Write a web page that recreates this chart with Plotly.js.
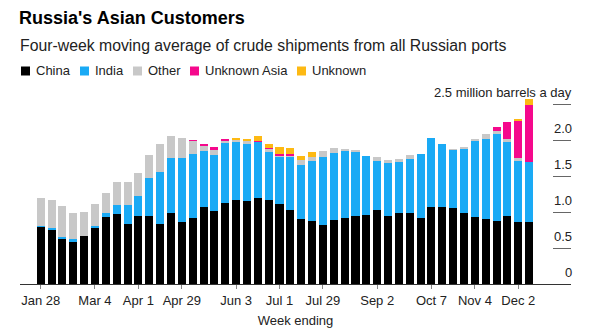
<!DOCTYPE html>
<html><head><meta charset="utf-8">
<script src="https://cdn.plot.ly/plotly-3.0.1.min.js"></script>
<style>html,body{margin:0;padding:0;background:#fff;} #chart{width:604px;height:335px;}</style>
</head><body><div id="chart"></div>
<script>
const weeks = ['2022-01-28','2022-02-04','2022-02-11','2022-02-18','2022-02-25','2022-03-04','2022-03-11','2022-03-18','2022-03-25','2022-04-01',
'2022-04-08','2022-04-15','2022-04-22','2022-04-29','2022-05-06','2022-05-13','2022-05-20','2022-05-27','2022-06-03','2022-06-10',
'2022-06-17','2022-06-24','2022-07-01','2022-07-08','2022-07-15','2022-07-22','2022-07-29','2022-08-05','2022-08-12','2022-08-19',
'2022-08-26','2022-09-02','2022-09-09','2022-09-16','2022-09-23','2022-09-30','2022-10-07','2022-10-14','2022-10-21','2022-10-28',
'2022-11-04','2022-11-11','2022-11-18','2022-11-25','2022-12-02','2022-12-09'];

const china = [0.79,0.75,0.63,0.59,0.66,0.78,0.93,0.97,0.84,0.94,
0.94,0.84,0.99,0.86,0.91,1.07,1.01,1.12,1.17,1.15,
1.20,1.16,1.11,1.03,0.90,0.87,0.82,0.89,0.91,0.94,
0.96,1.03,0.94,0.98,0.98,0.91,1.07,1.07,1.05,0.98,
0.93,0.90,0.87,0.94,0.86,0.86];

const india = [0.02,0.03,0.02,0.03,0.00,0.03,0.05,0.13,0.26,0.28,
0.53,0.71,0.76,0.89,0.89,0.78,0.78,0.84,0.80,0.80,
0.77,0.68,0.65,0.73,0.75,0.84,0.94,0.93,0.94,0.90,
0.82,0.68,0.74,0.71,0.75,0.90,0.96,0.88,0.81,0.90,
1.06,1.12,1.21,1.03,0.85,0.83];

const other = [0.38,0.38,0.44,0.37,0.34,0.30,0.29,0.31,0.31,0.32,
0.32,0.39,0.30,0.28,0.18,0.07,0.07,0.03,0.03,0.03,
0.00,0.03,0.02,0.02,0.07,0.06,0.09,0.07,0.02,0.02,
0.00,0.05,0.04,0.05,0.06,0.00,0.00,0.00,0.02,0.02,
0.03,0.07,0.04,0.05,0.04,0.00];

const unknownAsia = [0,0,0,0,0,0,0,0,0,0,
0,0,0,0,0.02,0.03,0.04,0.03,0,0,
0.02,0.02,0.02,0.03,0,0,0,0,0,0,
0,0,0,0,0,0,0,0,0,0,
0,0,0.06,0.23,0.51,0.79];

const unknown = [0,0,0,0,0,0,0,0,0,0,
0,0,0,0,0,0,0,0,0.03,0.03,
0.06,0.05,0.10,0.08,0.06,0.06,0,0,0,0,
0,0,0,0,0,0,0,0,0,0,
0,0,0,0,0.03,0.09];

const seriesNames = ['China','India','Other','Unknown Asia','Unknown'];
const seriesValues = [china, india, other, unknownAsia, unknown];
const seriesColors = ['#000000','#1AAAF5','#C8C8C8','#F5088C','#FDB913'];

const tickDates = ['2022-01-28','2022-03-04','2022-04-01','2022-04-29','2022-06-03','2022-07-01','2022-07-29','2022-09-02','2022-10-07','2022-11-04','2022-12-02'];
const tickLabels = ['Jan 28','Mar 4','Apr 1','Apr 29','Jun 3','Jul 1','Jul 29','Sep 2','Oct 7','Nov 4','Dec 2'];
const yTickVals = [0, 0.5, 1, 1.5, 2, 2.5];
const yTickLabels = ['0','0.5','1.0','1.5','2.0','2.5 million barrels a day'];

const FONT = 'Liberation Sans, Arial, sans-serif';
const W = 604, H = 335, L = 20, R = 33, T = 90, B = 51;
const pw = W - L - R, ph = H - T - B;
const pxX = x => (x - L) / pw;
const pxY = y => (H - B - y) / ph;

const traces = seriesNames.map((name, i) => ({
  type: 'bar', name: name, x: weeks, y: seriesValues[i],
  marker: {color: seriesColors[i], line: {width: 0}},
  hoverinfo: 'skip'
}));

const annotations = [];
const shapes = [];

// subtitle
annotations.push({xref:'paper', yref:'paper', x: pxX(18), y: pxY(46), xanchor:'left', yanchor:'middle',
  text:'Four-week moving average of crude shipments from all Russian ports', showarrow:false,
  font:{family:FONT, size:15.8, color:'#222'}});

// custom legend
const legendX = [21, 80, 133, 190, 297];
const legendY = 71;
seriesNames.forEach((name, i) => {
  const x0 = legendX[i];
  shapes.push({type:'rect', xref:'paper', yref:'paper', x0: pxX(x0), x1: pxX(x0 + 9), y0: pxY(legendY + 4.5), y1: pxY(legendY - 4.5),
    fillcolor: seriesColors[i], line:{width:0}});
  annotations.push({xref:'paper', yref:'paper', x: pxX(x0 + 13), y: pxY(legendY), xanchor:'left', yanchor:'middle',
    text: name, showarrow:false, font:{family:FONT, size:13, color:'#222'}});
});

// y labels above their tick dashes
yTickVals.forEach((v, i) => {
  annotations.push({xref:'paper', yref:'y', x: pxX(574), y: v, yshift: 12, xanchor:'right', yanchor:'middle',
    text: yTickLabels[i], showarrow:false, font:{family:FONT, size:13, color:'#222'}});
});

const layout = {
  width: W, height: H,
  margin: {l: L, r: R, t: T, b: B, pad: 0},
  paper_bgcolor: '#fff', plot_bgcolor: '#fff',
  font: {family: FONT, size: 13, color: '#222'},
  title: {text: "<b>Russia's Asian Customers</b>", xref:'container', yref:'container', x: 19/W, xanchor:'left',
    y: 1 - 18/H, yanchor:'middle', font:{family:FONT, size:18, color:'#000'}},
  showlegend: false,
  barmode: 'stack', bargap: 0.26,
  xaxis: {type:'date', range:['2022-01-14 15:40','2023-01-04 23:30'],
    tickmode:'array', tickvals: tickDates, ticktext: tickLabels,
    ticks:'outside', ticklen:4, tickcolor:'#888', tickwidth:1,
    showline:true, linecolor:'#333', linewidth:1, showgrid:false, zeroline:false,
    tickfont:{family:FONT, size:13, color:'#222'},
    title:{text:'Week ending', font:{family:FONT, size:13, color:'#222'}, standoff: 9},
    fixedrange:true},
  yaxis: {range:[0, ph/72], side:'right', tickmode:'array', tickvals: yTickVals.slice(1),
    ticks:'inside', ticklen:18, tickcolor:'#666', tickwidth:1,
    showticklabels:false, showgrid:false, zeroline:false, showline:false, fixedrange:true},
  annotations: annotations,
  shapes: shapes
};

Plotly.newPlot('chart', traces, layout, {displayModeBar:false, staticPlot:true});
</script></body></html>
